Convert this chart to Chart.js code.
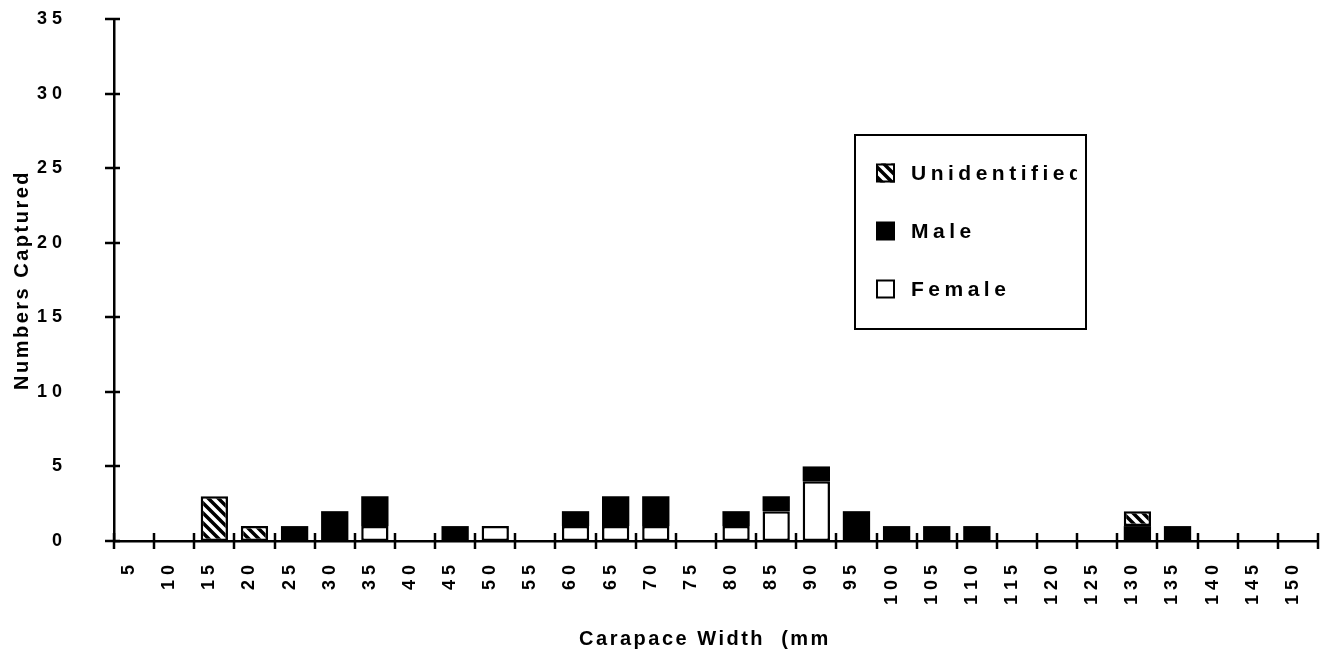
<!DOCTYPE html>
<html>
<head>
<meta charset="utf-8">
<title>Carapace width</title>
<script src="https://cdn.jsdelivr.net/npm/chart.js@4.4.1/dist/chart.umd.min.js"></script>
<style>
  html, body { margin: 0; padding: 0; background: #fff; }
  #wrap { width: 1325px; height: 658px; }
</style>
</head>
<body>
<div id="wrap"><canvas id="widthChart"></canvas></div>
<script>
// 5 mm size classes, by lower bound
const classStarts = [5, 10, 15, 20, 25, 30, 35, 40, 45, 50, 55, 60, 65, 70, 75,
                     80, 85, 90, 95, 100, 105, 110, 115, 120, 125, 130, 135, 140, 145];
const femaleCounts =       [0, 0, 0, 0, 0, 0, 1, 0, 0, 1, 0, 1, 1, 1, 0, 1, 2, 4, 0, 0, 0, 0, 0, 0, 0, 0, 0, 0, 0];
const maleCounts =         [0, 0, 0, 0, 1, 2, 2, 0, 1, 0, 0, 1, 2, 2, 0, 1, 1, 1, 2, 1, 1, 1, 0, 0, 0, 1, 1, 0, 0];
const unidentifiedCounts = [0, 0, 3, 1, 0, 0, 0, 0, 0, 0, 0, 0, 0, 0, 0, 0, 0, 0, 0, 0, 0, 0, 0, 0, 0, 1, 0, 0, 0];

const xTickLabels = ['5', '1 0', '1 5', '2 0', '2 5', '3 0', '3 5', '4 0', '4 5', '5 0',
                     '5 5', '6 0', '6 5', '7 0', '7 5', '8 0', '8 5', '9 0', '9 5', '1 0 0',
                     '1 0 5', '1 1 0', '1 1 5', '1 2 0', '1 2 5', '1 3 0', '1 3 5', '1 4 0', '1 4 5', '1 5 0'];
const yTickLabels = ['0', '5', '1 0', '1 5', '2 0', '2 5', '3 0', '3 5'];

const FONT = '"Liberation Sans", Arial, Helvetica, sans-serif';

// bars sit in the middle of their class
const toPoints = counts => classStarts.map((s, i) => ({ x: s + 2.5, y: counts[i] || null }));

// black "\\\" hatching
const makeHatch = () => {
    const c = document.createElement('canvas');
    c.width = c.height = 10;
    const g = c.getContext('2d');
    g.fillStyle = '#fff';
    g.fillRect(0, 0, 10, 10);
    g.strokeStyle = '#000';
    g.lineWidth = 3.5;
    g.beginPath();
    for (const o of [-10, 0, 10]) {
        g.moveTo(o - 2, -2);
        g.lineTo(o + 12, 12);
    }
    g.stroke();
    return g.createPattern(c, 'repeat');
};

// keep the plot area where the layout padding puts it
const noScalePadding = s => {
    s.paddingTop = s.paddingBottom = s.paddingLeft = s.paddingRight = 0;
};

// tick marks across the axes, axis titles and the boxed key
const chartDecor = {
    id: 'chartDecor',
    afterDraw(chart, args, opts) {
        const { ctx, chartArea, scales: { x, y } } = chart;
        ctx.save();
        ctx.strokeStyle = '#000';
        ctx.lineWidth = 2.5;
        ctx.beginPath();
        x.ticks.forEach(t => {
            const px = Math.round(x.getPixelForValue(t.value));
            ctx.moveTo(px, chartArea.bottom - 8);
            ctx.lineTo(px, chartArea.bottom + 8);
        });
        y.ticks.forEach(t => {
            const py = Math.round(y.getPixelForValue(t.value));
            ctx.moveTo(chartArea.left - 9, py);
            ctx.lineTo(chartArea.left + 6, py);
        });
        ctx.stroke();

        ctx.fillStyle = '#000';
        ctx.font = 'bold 20px ' + FONT;
        ctx.letterSpacing = '2.5px';
        ctx.textAlign = 'center';
        ctx.textBaseline = 'middle';
        ctx.fillText(opts.xTitle, opts.xTitleX, opts.xTitleY);
        ctx.save();
        ctx.translate(opts.yTitleX, (chartArea.top + chartArea.bottom) / 2);
        ctx.rotate(-Math.PI / 2);
        ctx.fillText(opts.yTitle, 0, 0);
        ctx.restore();

        // key, top entry is the top of the stack
        const box = opts.key;
        ctx.fillStyle = '#fff';
        ctx.fillRect(box.left, box.top, box.width, box.height);
        ctx.lineWidth = 2;
        ctx.strokeRect(box.left, box.top, box.width, box.height);
        ctx.beginPath();
        ctx.rect(box.left, box.top, box.width - box.clipRight, box.height);
        ctx.clip();
        ctx.font = 'bold 21px ' + FONT;
        ctx.letterSpacing = '4.5px';
        ctx.textAlign = 'left';
        const sets = chart.data.datasets.slice().reverse();
        sets.forEach((ds, i) => {
            const cy = box.top + box.firstRow + i * box.rowGap;
            const sx = box.left + box.swatchX;
            const sz = box.swatch;
            ctx.fillStyle = ds.backgroundColor;
            ctx.fillRect(sx, cy - sz / 2, sz, sz);
            if (ds.borderWidth) {
                ctx.lineWidth = 2;
                ctx.strokeRect(sx + 1, cy - sz / 2 + 1, sz - 2, sz - 2);
            }
            ctx.fillStyle = '#000';
            ctx.fillText(ds.label, box.left + box.textX, cy + 1);
        });
        ctx.restore();
    }
};

const tickFont = { family: FONT, size: 18, weight: 'bold' };

new Chart(document.getElementById('widthChart').getContext('2d'), {
    type: 'bar',
    data: {
        datasets: [{
            label: 'Female',
            data: toPoints(femaleCounts),
            backgroundColor: '#fff',
            borderColor: '#000',
            borderWidth: 2.5,
            borderSkipped: false
        }, {
            label: 'Male',
            data: toPoints(maleCounts),
            backgroundColor: '#000',
            borderColor: '#000',
            borderWidth: 0
        }, {
            label: 'Unidentified',
            data: toPoints(unidentifiedCounts),
            backgroundColor: makeHatch(),
            borderColor: '#000',
            borderWidth: 2.5,
            borderSkipped: false
        }]
    },
    options: {
        responsive: true,
        maintainAspectRatio: false,
        animation: false,
        layout: { padding: { top: 19, right: 7, left: 0, bottom: 0 } },
        datasets: {
            bar: { categoryPercentage: 1, barPercentage: 0.68, inflateAmount: 0 }
        },
        plugins: {
            legend: { display: false },
            tooltip: { enabled: false },
            chartDecor: {
                xTitle: 'Carapace Width  (mm',
                xTitleX: 705,
                xTitleY: 639,
                yTitle: 'Numbers Captured',
                yTitleX: 22,
                key: {
                    left: 855, top: 135, width: 231, height: 194,
                    firstRow: 38, rowGap: 58, swatch: 19, swatchX: 21, textX: 56, clipRight: 9
                }
            }
        },
        scales: {
            x: {
                type: 'linear',
                stacked: true,
                offset: false,
                min: 5,
                max: 155,
                grid: { display: false, drawTicks: false },
                border: { display: true, color: '#000', width: 2.5 },
                ticks: {
                    stepSize: 5,
                    autoSkip: false,
                    maxRotation: 90,
                    minRotation: 90,
                    padding: 24,
                    labelOffset: 15,
                    color: '#000',
                    font: tickFont,
                    callback: v => xTickLabels[(v - 5) / 5] ?? ''
                },
                afterFit: s => { s.height = 117; noScalePadding(s); }
            },
            y: {
                stacked: true,
                min: 0,
                max: 35,
                grid: { display: false, drawTicks: false },
                border: { display: true, color: '#000', width: 2.5 },
                ticks: {
                    stepSize: 5,
                    padding: 52,
                    color: '#000',
                    font: tickFont,
                    callback: v => yTickLabels[v / 5]
                },
                afterFit: s => { s.width = 114; noScalePadding(s); }
            }
        }
    },
    plugins: [chartDecor]
});
</script>
</body>
</html>
